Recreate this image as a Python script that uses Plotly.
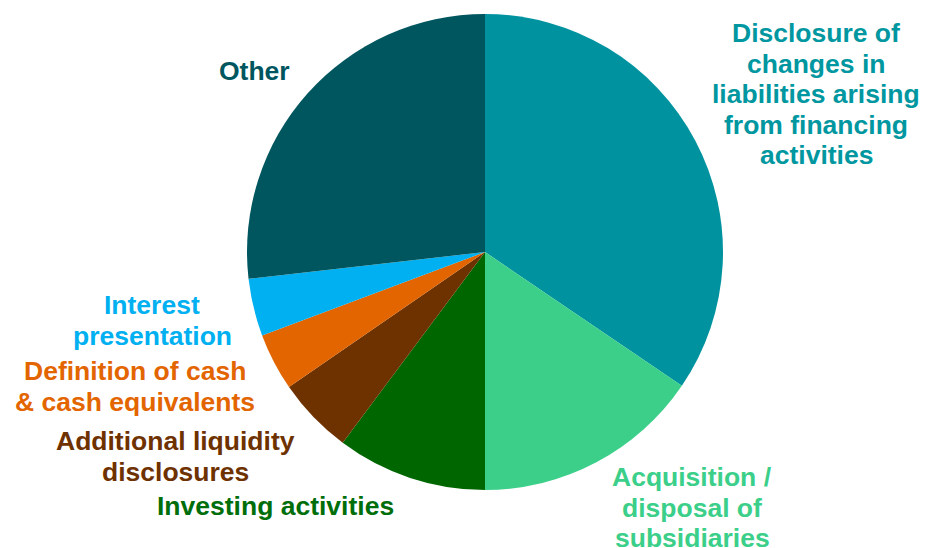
import plotly.graph_objects as go

W, H = 930, 548

categories = [
    "Disclosure of changes in liabilities arising from financing activities",
    "Acquisition / disposal of subsidiaries",
    "Investing activities",
    "Additional liquidity disclosures",
    "Definition of cash & cash equivalents",
    "Interest presentation",
    "Other",
]
values = [34.5, 15.5, 10.2, 5.2, 3.9, 3.9, 26.8]
slice_colors = ["#00939F", "#3BCF8A", "#006600", "#6E3100", "#E36500", "#00B0F0", "#00565E"]
text_colors = ["#0097A0", "#3BCF8A", "#006E0A", "#6E3100", "#E36500", "#00B0F0", "#00565E"]
label_lines = [
    ["Disclosure of", "changes in", "liabilities arising", "from financing", "activities"],
    ["Acquisition /", "disposal of", "subsidiaries"],
    ["Investing activities"],
    ["Additional liquidity", "disclosures"],
    ["Definition of cash", "& cash equivalents"],
    ["Interest", "presentation"],
    ["Other"],
]
# label anchor (center x, first-line center y) in pixels
label_pos = [(816, 33), (692, 477), (275, 506), (175, 441), (135, 371), (152, 305), (254, 71)]
line_step = 30.6

cx, cy, r = 485, 252, 238
fig = go.Figure(go.Pie(
    labels=categories,
    values=values,
    sort=False,
    direction="clockwise",
    rotation=0,
    marker=dict(colors=slice_colors, line=dict(width=0)),
    textinfo="none",
    hoverinfo="label+percent",
    showlegend=False,
    domain=dict(x=[(cx - r) / W, (cx + r) / W], y=[(H - cy - r) / H, (H - cy + r) / H]),
))

annotations = []
for lines, (px, py), col in zip(label_lines, label_pos, text_colors):
    for i, line in enumerate(lines):
        annotations.append(dict(
            text="<b>" + line + "</b>",
            x=px / W, y=1 - (py + i * line_step) / H,
            xref="paper", yref="paper",
            xanchor="center", yanchor="middle",
            showarrow=False,
            font=dict(family="Liberation Sans, Arial, sans-serif", size=26.5, color=col),
        ))

fig.update_layout(
    width=W, height=H,
    margin=dict(l=0, r=0, t=0, b=0),
    paper_bgcolor="white",
    plot_bgcolor="white",
    annotations=annotations,
)

fig.write_html(
    "out.html",
    config={"displayModeBar": False},
    post_script="document.body.style.margin='0';document.body.style.overflow='hidden';",
)
